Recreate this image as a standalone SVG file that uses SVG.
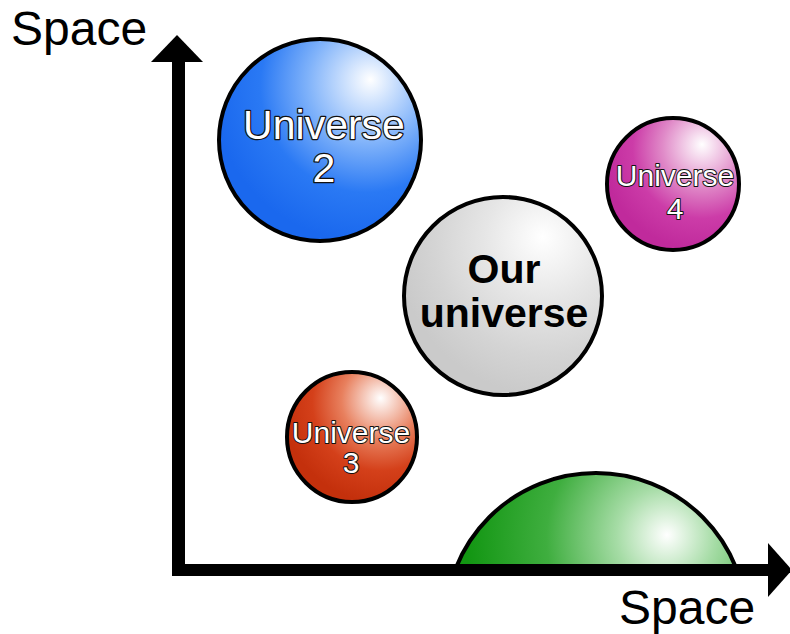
<svg xmlns="http://www.w3.org/2000/svg" width="790" height="634" viewBox="0 0 790 634">
<defs>
<radialGradient id="gBlue" cx="0.72" cy="0.25" r="0.75" fx="0.75" fy="0.2">
<stop offset="0" stop-color="#ffffff"/><stop offset="0.4" stop-color="#7fb2fa"/><stop offset="0.7" stop-color="#2a79f4"/><stop offset="1" stop-color="#1a68ee"/>
</radialGradient>
<radialGradient id="gPink" cx="0.72" cy="0.25" r="0.75" fx="0.72" fy="0.2">
<stop offset="0" stop-color="#ffffff"/><stop offset="0.4" stop-color="#e08ac8"/><stop offset="0.7" stop-color="#cc3ca8"/><stop offset="1" stop-color="#c02a9c"/>
</radialGradient>
<radialGradient id="gGray" cx="0.72" cy="0.25" r="0.75" fx="0.7" fy="0.2">
<stop offset="0" stop-color="#ffffff"/><stop offset="0.4" stop-color="#e6e6e6"/><stop offset="0.75" stop-color="#d4d4d4"/><stop offset="1" stop-color="#cacaca"/>
</radialGradient>
<radialGradient id="gRed" cx="0.72" cy="0.25" r="0.75" fx="0.72" fy="0.2">
<stop offset="0" stop-color="#ffffff"/><stop offset="0.4" stop-color="#e8805e"/><stop offset="0.7" stop-color="#d4401a"/><stop offset="1" stop-color="#c4300c"/>
</radialGradient>
<radialGradient id="gGreen" cx="0.72" cy="0.22" r="0.65" fx="0.735" fy="0.205">
<stop offset="0" stop-color="#ffffff"/><stop offset="0.25" stop-color="#a6dca6"/><stop offset="0.6" stop-color="#3fae3f"/><stop offset="1" stop-color="#129612"/>
</radialGradient>
<clipPath id="aboveAxis"><rect x="0" y="0" width="790" height="570"/></clipPath>
</defs>
<style>
.ball{stroke:#000;stroke-width:4}
.lab{font-family:"Liberation Sans",Arial,sans-serif;text-anchor:middle;fill:#fff;stroke:#111;stroke-width:2.5;paint-order:stroke;stroke-linejoin:round}
.our{font-family:"Liberation Sans",Arial,sans-serif;text-anchor:middle;font-weight:bold;fill:#000;font-size:41px}
.axlab{font-family:"Liberation Sans",Arial,sans-serif;fill:#000;font-size:48px}
</style>
<g id="universe5">
<circle class="ball" cx="596" cy="624" r="151" fill="url(#gGreen)" clip-path="url(#aboveAxis)"/>
</g>
<g id="universe2">
<circle class="ball" cx="320" cy="140" r="101" fill="url(#gBlue)"/>
<text class="lab" x="324" y="139" font-size="41">Universe</text>
<text class="lab" x="324" y="182" font-size="41">2</text>
</g>
<g id="universe4">
<circle class="ball" cx="673" cy="184" r="66" fill="url(#gPink)"/>
<text class="lab" x="675" y="186" font-size="30" style="stroke-width:2">Universe</text>
<text class="lab" x="675" y="219" font-size="30" style="stroke-width:2">4</text>
</g>
<g id="ouruniverse">
<circle class="ball" cx="503" cy="296" r="99" fill="url(#gGray)"/>
<text class="our" x="504" y="283">Our</text>
<text class="our" x="504" y="327">universe</text>
</g>
<g id="universe3">
<circle class="ball" cx="352" cy="437" r="65" fill="url(#gRed)"/>
<text class="lab" x="351" y="443" font-size="30" style="stroke-width:2">Universe</text>
<text class="lab" x="351" y="473" font-size="30" style="stroke-width:2">3</text>
</g>
<g id="connectors">
<path d="M178.5,576 V62" stroke="#000" stroke-width="13" fill="none"/>
<polygon points="151,62 177,35 203,62" fill="#000"/>
<path d="M172,570 H769" stroke="#000" stroke-width="12" fill="none"/>
<polygon points="768,543 792,570 768,597" fill="#000"/>
</g>
<g id="labels">
<text class="axlab" x="11" y="45">Space</text>
<text class="axlab" x="619" y="624">Space</text>
</g>
</svg>
